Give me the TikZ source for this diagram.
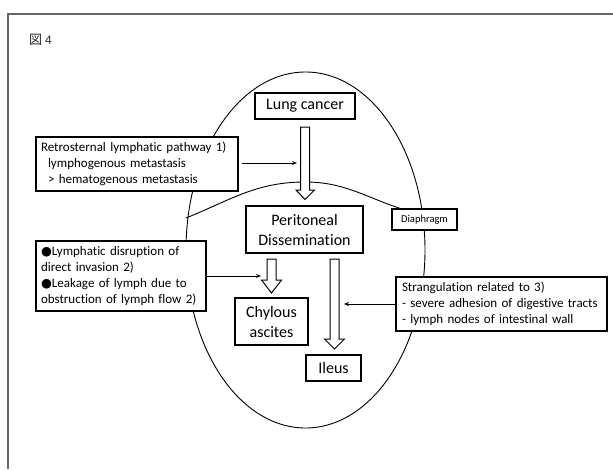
\documentclass[tikz,border=0pt]{standalone}
\usepackage{fontspec}
\setmainfont[Ligatures={NoCommon}]{Carlito}
\newfontfamily\cjkfont{Noto Sans CJK JP}
\newfontfamily\symfont{DejaVu Sans}
\usetikzlibrary{arrows.meta}
\newcommand{\bul}{{\symfont\fontsize{12.5}{12}\selectfont ●}}
\begin{document}
\begin{tikzpicture}[x=1pt,y=-1pt,
  mainbox/.style={draw=black, fill=white, line width=1.1pt, font=\fontsize{16}{20}\selectfont, align=center, inner sep=0pt},
  notebox/.style={draw=black, fill=white, line width=1.1pt, font=\fontsize{13}{16}\selectfont, align=left, inner xsep=5pt, inner ysep=0pt},
  hollow/.style={draw=black, fill=white, line width=1pt, line join=miter},
  thinarrow/.style={draw=black, line width=0.9pt, -{Stealth[length=5pt,width=4pt]}},
  outline/.style={draw=black, line width=0.9pt}]
\useasboundingbox (0,0) rectangle (613,469);
\fill[white] (0,0) rectangle (613,469);
% frame
\draw[black!60, line width=1.4pt] (8,469) -- (8,14) -- (613,14);
\node[anchor=west, inner sep=0pt, font=\fontsize{13}{15}\selectfont, text=black!85] (fig) at (29,40) {{\cjkfont 図}\hspace{3pt}4};
% ellipse and diaphragm line
\draw[outline] (305.5,250) ellipse [x radius=119.5pt, y radius=178pt];
\coordinate (dl) at (186,218);
\coordinate (dp) at (305,182);
\coordinate (dr) at (402,209);
\draw[outline] (dl) to[out=22,in=180] (dp) to[out=0,in=162] (dr);
% main boxes
\node[mainbox, minimum width=100pt, minimum height=26pt] (lung) at (305,106) {Lung cancer};
\node[mainbox, minimum width=117pt, minimum height=47pt] (perit) at (304.5,229.5) {Peritoneal\\Dissemination};
\node[mainbox, minimum width=73pt, minimum height=47pt] (chyl) at (271.5,321.5) {Chylous\\ascites};
\node[mainbox, minimum width=55pt, minimum height=26pt] (ileus) at (333.5,368) {Ileus};
\node[draw=black, fill=white, line width=1.1pt, inner sep=0pt, minimum width=65pt, minimum height=21pt, font=\fontsize{10.5}{12}\selectfont] (diaph) at (424.5,219.5) {Diaphragm};
% note boxes
\node[notebox, text width=192pt, minimum height=54pt] (retro) at (137,164) {Retrosternal lymphatic pathway 1)\\\hspace*{7pt}lymphogenous metastasis\\\hspace*{7pt}> hematogenous metastasis};
\node[notebox, text width=160pt, minimum height=70pt] (lymph) at (121,276) {\bul Lymphatic disruption of\\direct invasion 2)\\\bul Leakage of lymph due to\\obstruction of lymph flow 2)};
\node[notebox, text width=199pt, minimum height=54pt, inner xsep=6pt] (strang) at (501.5,304) {Strangulation related to 3)\\- severe adhesion of digestive tracts\\- lymph nodes of intestinal wall};
% hollow arrows
\draw[hollow] (300.7,127) -- (300.7,190) -- (296,190) -- (305,199.5) -- (314.5,190) -- (309.5,190) -- (309.5,127) -- cycle;
\draw[hollow] (267,259) -- (267,280) -- (261.5,280) -- (271.5,293) -- (281.5,280) -- (276,280) -- (276,259) -- cycle;
\draw[hollow] (330,259) -- (330,339) -- (324.5,339) -- (334.5,349) -- (344.5,339) -- (339,339) -- (339,259) -- cycle;
% thin arrows
\coordinate (a1) at (297,163);
\coordinate (a2) at (261,276);
\coordinate (a3) at (344,304);
\draw[thinarrow] ([xshift=3pt]retro.east |- a1) -- (a1);
\draw[thinarrow] (lymph.east |- a2) -- (a2);
\draw[thinarrow] (strang.west |- a3) -- (a3);
\end{tikzpicture}
\end{document}
